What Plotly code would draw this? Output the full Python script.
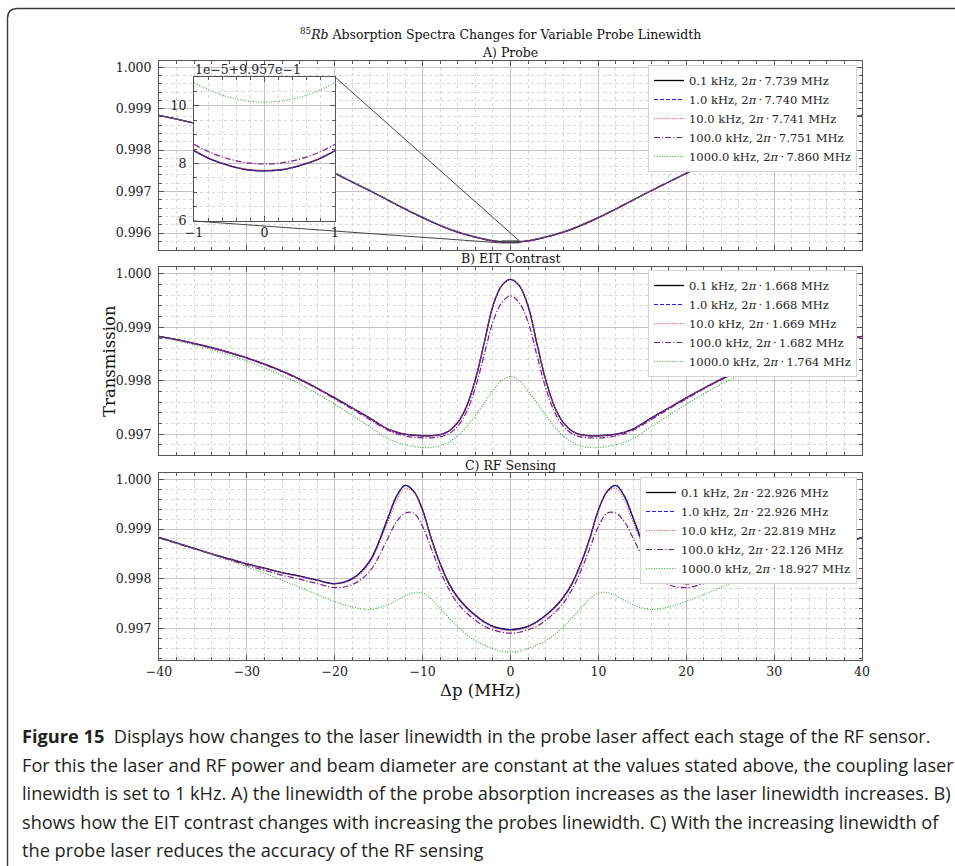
import plotly.graph_objects as go

W, H = 955, 866


def px(x):
    return x / W


def py(y):
    return 1 - y / H


# ---------------- data ----------------
x_a = [-40, -38, -36, -34, -32, -30, -28, -26, -24, -22, -20, -18, -16, -14, -12, -10, -8, -6, -4, -2, 0,
       2, 4, 6, 8, 10, 12, 14, 16, 18, 20, 22, 24, 26, 28, 30, 32, 34, 36, 38, 40]
a_narrow = [0.99884, 0.99875, 0.99865, 0.99854, 0.99842, 0.99828, 0.99814, 0.99798, 0.99781, 0.99763, 0.99744,
            0.99723, 0.99702, 0.99680, 0.99658, 0.99637, 0.99618, 0.99602, 0.99590, 0.99581, 0.995777,
            0.99581, 0.99590, 0.99602, 0.99618, 0.99637, 0.99658, 0.99680, 0.99702, 0.99723, 0.99744,
            0.99763, 0.99781, 0.99798, 0.99814, 0.99828, 0.99842, 0.99854, 0.99865, 0.99875, 0.99884]
a_wide = [0.99884, 0.99875, 0.99865, 0.99854, 0.99842, 0.99828, 0.99814, 0.99798, 0.99781, 0.99763, 0.99745,
          0.99724, 0.99703, 0.99681, 0.99659, 0.99639, 0.99620, 0.99604, 0.99592, 0.99583, 0.995801,
          0.99583, 0.99592, 0.99604, 0.99620, 0.99639, 0.99659, 0.99681, 0.99703, 0.99724, 0.99745,
          0.99763, 0.99781, 0.99798, 0.99814, 0.99828, 0.99842, 0.99854, 0.99865, 0.99875, 0.99884]

# inset (units of 1e-5, offset 0.9957)
inset_offset = 0.9957
inset_scale = 1e-5
x_in = [-1, -0.75, -0.5, -0.25, 0, 0.25, 0.5, 0.75, 1]
in_01 = [8.44, 8.13, 7.92, 7.78, 7.74, 7.78, 7.92, 8.13, 8.44]
in_1 = [8.445, 8.135, 7.925, 7.785, 7.745, 7.785, 7.925, 8.135, 8.445]
in_10 = [8.46, 8.15, 7.94, 7.80, 7.76, 7.80, 7.94, 8.15, 8.46]
in_100 = [8.66, 8.36, 8.15, 8.02, 7.98, 8.02, 8.15, 8.36, 8.66]
in_1000 = [10.80, 10.51, 10.30, 10.17, 10.13, 10.17, 10.30, 10.51, 10.80]

x_bc = [-40, -38, -36, -34, -32, -30, -28, -26, -24, -22, -20, -18, -16, -14,
        -13, -12, -11, -10, -9, -8, -7, -6, -5, -4, -3, -2, -1, 0, 1, 2, 3, 4, 5, 6, 7, 8, 9, 10, 11, 12, 13,
        14, 16, 18, 20, 22, 24, 26, 28, 30, 32, 34, 36, 38, 40]

b_narrow = [0.99883, 0.99877, 0.99870, 0.99862, 0.99853, 0.99843, 0.99831, 0.99818, 0.99803, 0.99786, 0.99768,
            0.99749, 0.99730, 0.99710, 0.99704, 0.99700, 0.99698, 0.99697, 0.99697, 0.99699, 0.99706, 0.99722,
            0.99752, 0.99802, 0.99870, 0.99940, 0.99978, 0.99990,
            0.99978, 0.99940, 0.99870, 0.99802, 0.99752, 0.99722, 0.99706, 0.99699, 0.99697, 0.99697, 0.99698,
            0.99700, 0.99704, 0.99710, 0.99730, 0.99749, 0.99768, 0.99786, 0.99803, 0.99818, 0.99831, 0.99843,
            0.99853, 0.99862, 0.99870, 0.99877, 0.99883]
b_100 = [0.99883, 0.99877, 0.99869, 0.99861, 0.99852, 0.99842, 0.99830, 0.99817, 0.99802, 0.99785, 0.99766,
         0.99747, 0.99727, 0.99708, 0.99701, 0.99697, 0.99694, 0.99693, 0.99693, 0.99695, 0.99701, 0.99715,
         0.99742, 0.99787, 0.99848, 0.99910, 0.99946, 0.99959,
         0.99946, 0.99910, 0.99848, 0.99787, 0.99742, 0.99715, 0.99701, 0.99695, 0.99693, 0.99693, 0.99694,
         0.99697, 0.99701, 0.99708, 0.99727, 0.99747, 0.99766, 0.99785, 0.99802, 0.99817, 0.99830, 0.99842,
         0.99852, 0.99861, 0.99869, 0.99877, 0.99883]
b_1000 = [0.99881, 0.99875, 0.99867, 0.99858, 0.99848, 0.99837, 0.99824, 0.99810, 0.99794, 0.99776, 0.99756,
          0.99735, 0.99714, 0.99692, 0.99685, 0.99680, 0.99677, 0.99675, 0.99675, 0.99678, 0.99685, 0.99697,
          0.99714, 0.99735, 0.99758, 0.99781, 0.99800, 0.99808,
          0.99800, 0.99781, 0.99758, 0.99735, 0.99714, 0.99697, 0.99685, 0.99678, 0.99675, 0.99675, 0.99677,
          0.99680, 0.99685, 0.99692, 0.99714, 0.99735, 0.99756, 0.99776, 0.99794, 0.99810, 0.99824, 0.99837,
          0.99848, 0.99858, 0.99867, 0.99875, 0.99881]

c_narrow = [0.99883, 0.99872, 0.99861, 0.99850, 0.99840, 0.99830, 0.99821, 0.99812, 0.99805, 0.99797, 0.99790,
            0.99800, 0.99836, 0.99920, 0.99965, 0.99988, 0.99976, 0.99938, 0.99880, 0.99830, 0.99790, 0.99762,
            0.99742, 0.99726, 0.99713, 0.99704, 0.99699, 0.99697,
            0.99699, 0.99704, 0.99713, 0.99726, 0.99742, 0.99762, 0.99790, 0.99830, 0.99880, 0.99938, 0.99976,
            0.99988, 0.99965, 0.99920, 0.99836, 0.99800, 0.99790, 0.99797, 0.99805, 0.99812, 0.99821, 0.99830,
            0.99840, 0.99850, 0.99861, 0.99872, 0.99883]
c_10 = [0.99883, 0.99872, 0.99861, 0.99850, 0.99840, 0.99830, 0.99821, 0.99812, 0.99804, 0.99796, 0.99789,
        0.99798, 0.99832, 0.99912, 0.99956, 0.99982, 0.99974, 0.99936, 0.99878, 0.99827, 0.99788, 0.99760,
        0.99740, 0.99724, 0.99711, 0.99702, 0.99697, 0.99695,
        0.99697, 0.99702, 0.99711, 0.99724, 0.99740, 0.99760, 0.99788, 0.99827, 0.99878, 0.99936, 0.99974,
        0.99982, 0.99956, 0.99912, 0.99832, 0.99798, 0.99789, 0.99796, 0.99804, 0.99812, 0.99821, 0.99830,
        0.99840, 0.99850, 0.99861, 0.99872, 0.99883]
c_100 = [0.99882, 0.99871, 0.99860, 0.99849, 0.99838, 0.99827, 0.99817, 0.99807, 0.99799, 0.99790, 0.99782,
         0.99788, 0.99815, 0.99880, 0.99914, 0.99932, 0.99932, 0.99905, 0.99860, 0.99815, 0.99778, 0.99750,
         0.99731, 0.99716, 0.99704, 0.99697, 0.99692, 0.99690,
         0.99692, 0.99697, 0.99704, 0.99716, 0.99731, 0.99750, 0.99778, 0.99815, 0.99860, 0.99905, 0.99932,
         0.99932, 0.99914, 0.99880, 0.99815, 0.99788, 0.99782, 0.99790, 0.99799, 0.99807, 0.99817, 0.99827,
         0.99838, 0.99849, 0.99860, 0.99871, 0.99882]
c_1000 = [0.99881, 0.99871, 0.99860, 0.99849, 0.99837, 0.99824, 0.99811, 0.99797, 0.99783, 0.99768, 0.99754,
          0.99743, 0.99738, 0.99747, 0.99756, 0.99765, 0.99772, 0.99771, 0.99759, 0.99740, 0.99721, 0.99703,
          0.99687, 0.99675, 0.99666, 0.99659, 0.99654, 0.99652,
          0.99654, 0.99659, 0.99666, 0.99675, 0.99687, 0.99703, 0.99721, 0.99740, 0.99759, 0.99771, 0.99772,
          0.99765, 0.99756, 0.99747, 0.99738, 0.99743, 0.99754, 0.99768, 0.99783, 0.99797, 0.99811, 0.99824,
          0.99837, 0.99849, 0.99860, 0.99871, 0.99881]

probe_lw = ["0.1", "1.0", "10.0", "100.0", "1000.0"]
lw_a = ["7.739", "7.740", "7.741", "7.751", "7.860"]
lw_b = ["1.668", "1.668", "1.669", "1.682", "1.764"]
lw_c = ["22.926", "22.926", "22.819", "22.126", "18.927"]

panel_titles = ["A) Probe", "B) EIT Contrast", "C) RF Sensing"]
x_ticks = [-40, -30, -20, -10, 0, 10, 20, 30, 40]

# ---------------- styles ----------------
SERIF = "DejaVu Serif"
styles = [
    dict(color="#000000", dash="solid", width=1.3),
    dict(color="#2020ff", dash="4px,2px", width=1.2),
    dict(color="#ff3030", dash="1px,1.6px", width=1.1),
    dict(color="#7b1f86", dash="6px,2px,1.2px,2px", width=1.2),
    dict(color="#3aa33a", dash="1px,1.6px", width=1.1),
]

fig = go.Figure()

a_series = [a_narrow, a_narrow, a_narrow, a_narrow, a_wide]
b_series = [b_narrow, b_narrow, b_narrow, b_100, b_1000]
c_series = [c_narrow, c_narrow, c_10, c_100, c_1000]
in_series = [in_01, in_1, in_10, in_100, in_1000]

for i in range(5):
    fig.add_trace(go.Scatter(x=x_a, y=a_series[i], mode="lines", line=dict(**styles[i], shape="spline"),
                             name=f"{probe_lw[i]} kHz, 2<i>π</i>\u2009·\u2009{lw_a[i]} MHz",
                             legend="legend", xaxis="x", yaxis="y"))
for i in range(5):
    fig.add_trace(go.Scatter(x=x_bc, y=b_series[i], mode="lines", line=dict(**styles[i], shape="spline"),
                             name=f"{probe_lw[i]} kHz, 2<i>π</i>\u2009·\u2009{lw_b[i]} MHz",
                             legend="legend2", xaxis="x2", yaxis="y2"))
for i in range(5):
    fig.add_trace(go.Scatter(x=x_bc, y=c_series[i], mode="lines", line=dict(**styles[i], shape="spline"),
                             name=f"{probe_lw[i]} kHz, 2<i>π</i>\u2009·\u2009{lw_c[i]} MHz",
                             legend="legend3", xaxis="x3", yaxis="y3"))
for i in range(5):
    fig.add_trace(go.Scatter(x=x_in, y=in_series[i], mode="lines", line=dict(**styles[i], shape="spline"),
                             showlegend=False, xaxis="x4", yaxis="y4"))

# ---------------- layout geometry ----------------
xdom = [px(159), px(862)]
doms = {
    "A": [py(250), py(61)],
    "B": [py(455), py(267)],
    "C": [py(660), py(473)],
}
ranges = {
    "A": [0.99559, 1.00015],
    "B": [0.99661, 1.00013],
    "C": [0.99636, 1.00013],
}
inset_xdom = [px(194), px(335)]
inset_ydom = [py(221), py(77)]
inset_xr = [-1, 1]
inset_yr = [6, 11]

AX = "#555555"
tickfont = dict(family=SERIF, size=12.5, color="#222222")


def xax(dom, show, anchor, rng, dtick, mdtick, tickvals=None):
    d = dict(domain=dom, anchor=anchor, range=rng, showline=True, linecolor=AX, linewidth=1,
             mirror="allticks", ticks="inside", ticklen=5, tickcolor=AX, tickwidth=1,
             showgrid=True, gridcolor="#c4c4c4", gridwidth=0.8, zeroline=False, automargin=False,
             showticklabels=show, tickfont=tickfont,
             minor=dict(dtick=mdtick, ticks="inside", ticklen=3, tickcolor=AX, showgrid=True,
                        gridcolor="#d6d6d6", griddash="dot", gridwidth=0.7))
    if tickvals is not None:
        d.update(tickmode="array", tickvals=tickvals)
    else:
        d.update(dtick=dtick, tick0=0)
    return d


def yax(dom, anchor, rng, dtick, mdtick, fmt):
    return dict(domain=dom, anchor=anchor, range=rng, showline=True, linecolor=AX, linewidth=1,
                mirror="allticks", ticks="inside", ticklen=5, tickcolor=AX, tickwidth=1,
                showgrid=True, gridcolor="#c4c4c4", gridwidth=0.8, zeroline=False, automargin=False,
                dtick=dtick, tick0=0, tickformat=fmt, tickfont=tickfont, ticklabelstandoff=4,
                minor=dict(dtick=mdtick, ticks="inside", ticklen=3, tickcolor=AX, showgrid=True,
                           gridcolor="#d6d6d6", griddash="dot", gridwidth=0.7))


legend_common = dict(bgcolor="white", bordercolor="#d4d4d4", borderwidth=1,
                     font=dict(family=SERIF, size=11.5, color="#222222"),
                     itemwidth=30, xanchor="right", yanchor="top", tracegroupgap=0)

fig.update_layout(
    width=W, height=H, margin=dict(l=0, r=0, t=0, b=0, autoexpand=False),
    paper_bgcolor="white", plot_bgcolor="white",
    xaxis=xax(xdom, False, "y", [-40, 40], 10, 2, x_ticks),
    xaxis2=xax(xdom, False, "y2", [-40, 40], 10, 2, x_ticks),
    xaxis3=xax(xdom, True, "y3", [-40, 40], 10, 2, x_ticks),
    xaxis4=xax(inset_xdom, True, "y4", inset_xr, 1, 0.2),
    yaxis=yax(doms["A"], "x", ranges["A"], 0.001, 0.0002, ".3f"),
    yaxis2=yax(doms["B"], "x2", ranges["B"], 0.001, 0.0002, ".3f"),
    yaxis3=yax(doms["C"], "x3", ranges["C"], 0.001, 0.0002, ".3f"),
    yaxis4=yax(inset_ydom, "x4", inset_yr, 2, 0.5, "d"),
    legend=dict(x=px(857), y=py(65), **legend_common),
    legend2=dict(x=px(857), y=py(270), **legend_common),
    legend3=dict(x=px(857), y=py(477), **legend_common),
    showlegend=True,
)

# ---------------- inset zoom indicator ----------------
def to_main(pxp, pyp):
    xr = [-40, 40]
    yr = ranges["A"]
    xd = xr[0] + (pxp - xdom[0]) / (xdom[1] - xdom[0]) * (xr[1] - xr[0])
    yd = yr[0] + (pyp - doms["A"][0]) / (doms["A"][1] - doms["A"][0]) * (yr[1] - yr[0])
    return xd, yd


rect_y0 = inset_offset + inset_yr[0] * inset_scale
rect_y1 = inset_offset + inset_yr[1] * inset_scale
tr = to_main(inset_xdom[1], inset_ydom[1])
bl = to_main(inset_xdom[0], inset_ydom[0])
shapes = [
    dict(type="rect", xref="x", yref="y", x0=inset_xr[0], x1=inset_xr[1], y0=rect_y0, y1=rect_y1,
         line=dict(color="#444444", width=1), layer="above"),
    dict(type="line", xref="x", yref="y", x0=tr[0], y0=tr[1], x1=inset_xr[1], y1=rect_y1,
         line=dict(color="#444444", width=1), layer="above"),
    dict(type="line", xref="x", yref="y", x0=bl[0], y0=bl[1], x1=inset_xr[0], y1=rect_y0,
         line=dict(color="#444444", width=1), layer="above"),
]

# rounded frame of the figure box
r = 10
fx, fy = 7.5, 8.5
path = (f"M {px(fx)},{py(900)} L {px(fx)},{py(fy + r)} Q {px(fx)},{py(fy)} {px(fx + r)},{py(fy)} "
        f"L {px(980)},{py(fy)}")
shapes.append(dict(type="path", xref="paper", yref="paper", path=path,
                   line=dict(color="#3a3a3a", width=1.4), layer="above"))
fig.update_layout(shapes=shapes)

# ---------------- text ----------------
ann = []
ann.append(dict(text="<sup>85</sup><i>Rb</i> Absorption Spectra Changes for Variable Probe Linewidth",
                x=px(501), y=py(34), xref="paper", yref="paper", showarrow=False,
                font=dict(family=SERIF, size=12.5, color="#111111"), xanchor="center", yanchor="middle"))
for t, yy in zip(panel_titles, [53, 258, 465]):
    ann.append(dict(text=t, x=px(510), y=py(yy), xref="paper", yref="paper", showarrow=False,
                    font=dict(family=SERIF, size=12.5, color="#111111"), xanchor="center", yanchor="middle"))
ann.append(dict(text="Transmission", x=px(109), y=py(361), xref="paper", yref="paper", showarrow=False,
                textangle=-90, font=dict(family=SERIF, size=16.5, color="#111111"),
                xanchor="center", yanchor="middle"))
ann.append(dict(text="Δp (MHz)", x=px(480), y=py(690), xref="paper", yref="paper", showarrow=False,
                font=dict(family=SERIF, size=16.5, color="#111111"), xanchor="center", yanchor="middle"))
ann.append(dict(text="1e\u22125+9.957e\u22121", x=px(193), y=py(70), xref="paper", yref="paper",
                showarrow=False, font=dict(family=SERIF, size=12.5, color="#222222"),
                xanchor="left", yanchor="middle"))

caption = [
    "<b>Figure 15</b>\u00a0\u00a0Displays how changes to the laser linewidth in the probe laser affect each stage of the RF sensor.",
    "For this the laser and RF power and beam diameter are constant at the values stated above, the coupling laser",
    "linewidth is set to 1 kHz. A) the linewidth of the probe absorption increases as the laser linewidth increases. B)",
    "shows how the EIT contrast changes with increasing the probes linewidth. C) With the increasing linewidth of",
    "the probe laser reduces the accuracy of the RF sensing",
]
for i, line in enumerate(caption):
    ann.append(dict(text=line, x=px(20), y=py(736 + i * 28.6), xref="paper", yref="paper", showarrow=False,
                    font=dict(family="Open Sans", size=18.2, color="#231f20"), xanchor="left",
                    yanchor="middle"))
fig.update_layout(annotations=ann)

fig.write_html("out.html")
